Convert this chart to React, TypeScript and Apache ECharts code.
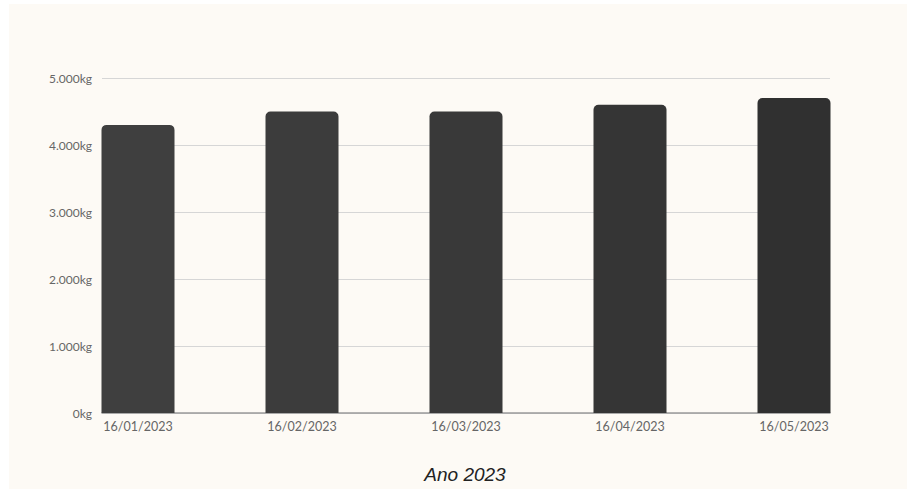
import React, { useEffect, useRef } from "react";
import * as echarts from "echarts";

const categories = ["16/01/2023", "16/02/2023", "16/03/2023", "16/04/2023", "16/05/2023"];
const values = [4300, 4500, 4500, 4600, 4700];
const barColors = ["#3f3f3f", "#3c3c3c", "#393939", "#353535", "#303030"];
const yTicks = [0, 1000, 2000, 3000, 4000, 5000];
const xTitle = "Ano 2023";
const topText = "(Quilos, Datas)";

function fmtKg(v: number): string {
  const s = Math.round(v).toString();
  return s.replace(/\B(?=(\d{3})+(?!\d))/g, ".") + "kg";
}

export default function App() {
  const ref = useRef<HTMLDivElement>(null);
  useEffect(() => {
    if (!ref.current) return;
    const chart = echarts.init(ref.current, null, { renderer: "svg" });
    const labelFont = "Lato, 'Noto Sans', sans-serif";
    chart.setOption({
      animation: false,
      backgroundColor: "#ffffff",
      graphic: [
        {
          type: "rect",
          z: -10,
          shape: { x: 9, y: 4, width: 898, height: 485 },
          style: { fill: "#fdfaf5" },
        },
        {
          type: "text",
          left: 160,
          top: -23.5,
          style: {
            text: topText,
            fontSize: 22,
            fontFamily: "'Liberation Sans', sans-serif",
            fill: "#222222",
          },
        },
        {
          type: "text",
          x: 465,
          y: 474,
          style: {
            text: xTitle,
            fontSize: 19,
            fontStyle: "italic",
            fontFamily: "'Liberation Sans', Arial, sans-serif",
            fill: "#222222",
            align: "center",
            verticalAlign: "middle",
          },
        },
      ],
      grid: [
        { left: 102, top: 78, width: 728, height: 335 },
        { left: 138, top: 78, width: 656, height: 335 },
      ],
      xAxis: [
        {
          gridIndex: 0,
          type: "category",
          data: categories,
          boundaryGap: false,
          axisLine: { show: true, lineStyle: { color: "#9a9a9a", width: 1.5 } },
          axisTick: { show: false },
          axisLabel: { show: false },
          splitLine: { show: false },
        },
        {
          gridIndex: 1,
          type: "category",
          data: categories,
          boundaryGap: false,
          axisLine: { show: false },
          axisTick: { show: false },
          splitLine: { show: false },
          axisLabel: {
            color: "#666666",
            fontSize: 12.5,
            fontFamily: labelFont,
            margin: 7,
            interval: 0,
          },
        },
      ],
      yAxis: [
        {
          gridIndex: 0,
          type: "value",
          min: yTicks[0],
          max: yTicks[yTicks.length - 1],
          interval: 1000,
          axisLine: { show: false },
          axisTick: { show: false },
          splitLine: { show: true, lineStyle: { color: "#d6d6d6", width: 1 } },
          axisLabel: {
            color: "#666666",
            fontSize: 12,
            fontFamily: labelFont,
            margin: 10,
            formatter: (v: number) => fmtKg(v),
          },
        },
        {
          gridIndex: 1,
          type: "value",
          min: yTicks[0],
          max: yTicks[yTicks.length - 1],
          interval: 1000,
          show: false,
          splitLine: { show: false },
        },
      ],
      series: [
        {
          type: "bar",
          xAxisIndex: 1,
          yAxisIndex: 1,
          barWidth: 73,
          data: values.map((v, i) => ({
            value: v,
            itemStyle: { color: barColors[i] },
          })),
          itemStyle: { borderRadius: [5, 5, 0, 0] },
          z: 3,
        },
      ],
    });
    return () => chart.dispose();
  }, []);
  return (
    <div
      ref={ref}
      style={{ position: "fixed", left: 0, top: 0, width: 907, height: 489 }}
    />
  );
}
